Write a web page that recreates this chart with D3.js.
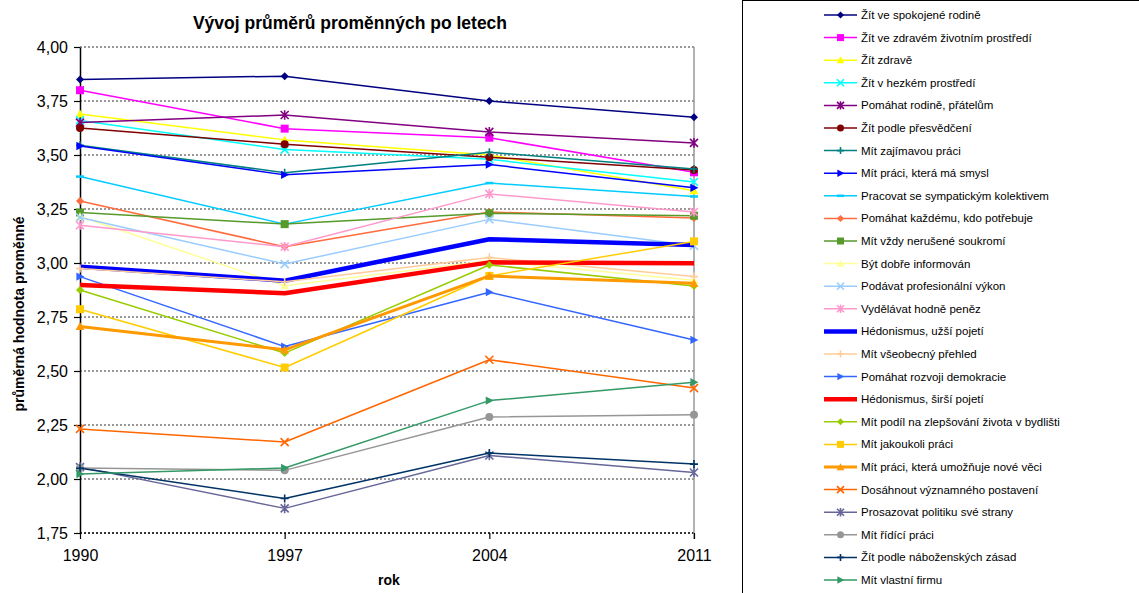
<!DOCTYPE html>
<html><head><meta charset="utf-8">
<script src="https://cdn.jsdelivr.net/npm/d3@7"></script>
<style>body{margin:0;background:#fff}svg{display:block;font-family:"Liberation Sans",Arial,sans-serif}</style>
</head><body>
<script>
const years = ["1990","1997","2004","2011"];
const yTicks = [1.75,2.00,2.25,2.50,2.75,3.00,3.25,3.50,3.75,4.00];
const seriesNames = [
 "Žít ve spokojené rodině","Žít ve zdravém životním prostředí","Žít zdravě","Žít v hezkém prostředí",
 "Pomáhat rodině, přátelům","Žít podle přesvědčení","Mít zajímavou práci","Mít práci, která má smysl",
 "Pracovat se sympatickým kolektivem","Pomáhat každému, kdo potřebuje","Mít vždy nerušené soukromí",
 "Být dobře informován","Podávat profesionální výkon","Vydělávat hodně peněz","Hédonismus, užší pojetí",
 "Mít všeobecný přehled","Pomáhat rozvoji demokracie","Hédonismus, širší pojetí",
 "Mít podíl na zlepšování života v bydlišti","Mít jakoukoli práci","Mít práci, která umožňuje nové věci",
 "Dosáhnout významného postavení","Prosazovat politiku své strany","Mít řídící práci",
 "Žít podle náboženských zásad","Mít vlastní firmu"];
const seriesValues = [
 [3.850,3.865,3.750,3.675],
 [3.800,3.622,3.580,3.420],
 [3.690,3.570,3.500,3.335],
 [3.660,3.525,3.480,3.375],
 [3.650,3.685,3.607,3.556],
 [3.625,3.550,3.490,3.430],
 [3.545,3.418,3.513,3.435],
 [3.542,3.408,3.456,3.348],
 [3.400,3.180,3.370,3.308],
 [3.287,3.075,3.236,3.208],
 [3.234,3.180,3.230,3.219],
 [3.215,2.895,3.010,2.920],
 [3.211,2.995,3.202,3.080],
 [3.175,3.075,3.320,3.236],
 [2.983,2.918,3.110,3.083],
 [2.974,2.913,3.025,2.937],
 [2.937,2.613,2.865,2.644],
 [2.898,2.860,3.003,2.999],
 [2.875,2.583,2.991,2.893],
 [2.786,2.516,2.940,3.100],
 [2.706,2.598,2.940,2.906],
 [2.232,2.171,2.552,2.421],
 [2.055,1.864,2.109,2.030],
 [2.051,2.040,2.287,2.297],
 [2.050,1.910,2.120,2.069],
 [2.023,2.051,2.363,2.448]];
// styles (separate from data)
const seriesColors = ["#000080","#FF00FF","#FFFF00","#00FFFF","#800080","#800000","#008080","#0000FF",
 "#00CCFF","#FF6B3D","#559A2A","#FFFF99","#99CCFF","#FF99CC","#0000FF","#FFCC99","#3366FF","#FF0000",
 "#99CC00","#FFCC00","#FF9900","#FF6600","#666699","#969696","#003366","#339966"];
const seriesMarkers = ["diamond","square","triangle","x","star","circle","plus","rtri","dash","diamond","square",
 "triangle","x","star","none","plus","rtri","none","diamond","square","triangle","x","star","circle","plus","rtri"];
const seriesWidths = [1.5,1.5,1.5,1.5,1.5,1.5,1.5,1.5,1.5,1.5,1.5,1.5,1.5,1.5,4.5,1.5,1.5,4.5,1.5,1.5,3,1.5,1.5,1.5,1.5,1.5];

const W=1139,H=593;
const svg=d3.select("body").append("svg").attr("width",W).attr("height",H);
svg.append("rect").attr("width",W).attr("height",H).attr("fill","#fff");

const x=d3.scalePoint().domain(years).range([80,694]);
const y=d3.scaleLinear().domain([1.75,4]).range([533,47]);

// gridlines
svg.append("g").selectAll("line").data(yTicks).join("line")
 .attr("x1",80).attr("x2",694).attr("y1",d=>y(d)).attr("y2",d=>y(d))
 .attr("stroke","#333").attr("stroke-width",d=>d===1.75?2:1).attr("stroke-dasharray","2,2");
// right border
svg.append("line").attr("x1",694).attr("x2",694).attr("y1",y(4)).attr("y2",539)
 .attr("stroke","#999").attr("stroke-width",1.5);

// axes
const ay=svg.append("g").attr("transform","translate(80,0)")
 .call(d3.axisLeft(y).tickValues(yTicks).tickFormat(d=>d.toFixed(2).replace(".",",")).tickSize(6).tickSizeOuter(0).tickPadding(6));
ay.select(".domain").attr("stroke","#000").attr("stroke-width",1.5);
ay.selectAll(".tick line").attr("stroke","#000").attr("stroke-width",1.2);
ay.selectAll("text").attr("font-size",16).attr("fill","#000").attr("font-family","Liberation Sans, Arial");
const ax=svg.append("g").attr("transform","translate(0,533)")
 .call(d3.axisBottom(x).tickSize(6).tickSizeOuter(0).tickPadding(11));
ax.select(".domain").remove();
ax.selectAll(".tick line").attr("stroke","#000").attr("stroke-width",1.2);
ax.selectAll("text").attr("font-size",16).attr("fill","#000").attr("font-family","Liberation Sans, Arial");

// marker drawing
function marker(g,type,color,cx,cy,s){
 const r=s/2;
 if(type==="none")return;
 if(type==="diamond")g.append("path").attr("d",`M${cx},${cy-r}L${cx+r},${cy}L${cx},${cy+r}L${cx-r},${cy}Z`).attr("fill",color);
 else if(type==="square")g.append("rect").attr("x",cx-r).attr("y",cy-r).attr("width",s).attr("height",s).attr("fill",color);
 else if(type==="triangle")g.append("path").attr("d",`M${cx},${cy-r*1.1}L${cx+r*1.1},${cy+r*0.9}L${cx-r*1.1},${cy+r*0.9}Z`).attr("fill",color);
 else if(type==="rtri")g.append("path").attr("d",`M${cx-r*0.9},${cy-r*1.05}L${cx+r*1.1},${cy}L${cx-r*0.9},${cy+r*1.05}Z`).attr("fill",color);
 else if(type==="circle")g.append("circle").attr("cx",cx).attr("cy",cy).attr("r",r).attr("fill",color);
 else if(type==="x")g.append("path").attr("d",`M${cx-r},${cy-r}L${cx+r},${cy+r}M${cx-r},${cy+r}L${cx+r},${cy-r}`).attr("stroke",color).attr("stroke-width",1.6).attr("fill","none");
 else if(type==="plus")g.append("path").attr("d",`M${cx-r},${cy}L${cx+r},${cy}M${cx},${cy-r}L${cx},${cy+r}`).attr("stroke",color).attr("stroke-width",1.6).attr("fill","none");
 else if(type==="star")g.append("path").attr("d",`M${cx-r},${cy-r}L${cx+r},${cy+r}M${cx-r},${cy+r}L${cx+r},${cy-r}M${cx},${cy-r*1.2}L${cx},${cy+r*1.2}`).attr("stroke",color).attr("stroke-width",1.6).attr("fill","none");
 else if(type==="dash")g.append("path").attr("d",`M${cx-r},${cy}L${cx+r},${cy}`).attr("stroke",color).attr("stroke-width",2.5).attr("fill","none");
}

const line=d3.line().x((d,i)=>x(years[i])).y(d=>y(d));
const plot=svg.append("g");
seriesValues.forEach((vals,si)=>{
 const g=plot.append("g");
 g.append("path").attr("d",line(vals)).attr("fill","none").attr("stroke",seriesColors[si])
  .attr("stroke-width",seriesWidths[si]).attr("stroke-linejoin","round");
 vals.forEach((v,i)=>marker(g,seriesMarkers[si],seriesColors[si],x(years[i]),y(v),8));
});

// title & labels
svg.append("text").attr("x",350).attr("y",29).attr("text-anchor","middle").attr("font-size",17.5).attr("font-weight","bold").text("Vývoj průměrů proměnných po letech");
svg.append("text").attr("transform","translate(24,314) rotate(-90)").attr("text-anchor","middle").attr("font-size",14).attr("font-weight","bold").text("průměrná hodnota proměnné");
svg.append("text").attr("x",389).attr("y",585).attr("text-anchor","middle").attr("font-size",14).attr("font-weight","bold").text("rok");

// legend
svg.append("rect").attr("x",742.5).attr("y",0.5).attr("width",500).attr("height",700).attr("fill","#fff").attr("stroke","#000").attr("stroke-width",1);
const lg=svg.append("g");
seriesNames.forEach((name,i)=>{
 const ly=15+i*22.6;
 const g=lg.append("g");
 g.append("line").attr("x1",824).attr("x2",857).attr("y1",ly).attr("y2",ly).attr("stroke",seriesColors[i]).attr("stroke-width",seriesWidths[i]);
 marker(g,seriesMarkers[i],seriesColors[i],840.5,ly,7);
 g.append("text").attr("x",861).attr("y",ly).attr("dy","0.35em").attr("font-size",11.5).attr("fill","#000").text(name);
});
</script>
</body></html>
